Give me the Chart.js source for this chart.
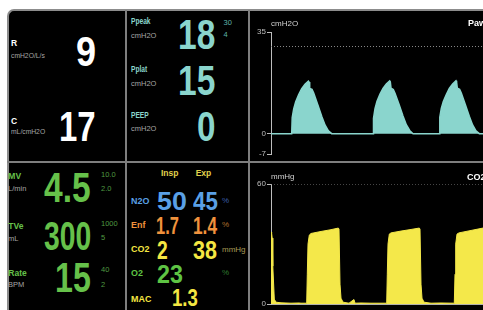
<!DOCTYPE html>
<html>
<head>
<meta charset="utf-8">
<script src="https://cdn.jsdelivr.net/npm/chart.js@4.4.1/dist/chart.umd.min.js"></script>
<style>
  html, body { margin: 0; padding: 0; background: #fff; overflow: hidden; }
  #stage { position: relative; width: 483px; height: 310px; overflow: hidden; }
  .frame { position: absolute; left: 7px; top: 9px; width: 500px; height: 320px; background: #000;
    border-top: 2px solid #8c8c8c; border-left: 2px solid #8c8c8c; border-top-left-radius: 7px; box-sizing: border-box; }
  .line { position: absolute; background: #7e7e7e; }
  .t { position: absolute; white-space: nowrap; line-height: 1; font-family: 'Liberation Sans', Arial, sans-serif; transform-origin: 0 0; }
  canvas { position: absolute; }
</style>
</head>
<body>
<div id="stage">
  <div class="frame"></div>
  <div class="line" style="left:125px;top:10px;width:2px;height:300px"></div>
  <div class="line" style="left:248px;top:10px;width:2px;height:300px"></div>
  <div class="line" style="left:7px;top:161px;width:476px;height:2px"></div>
  <canvas id="paw" width="233" height="150" style="left:250px;top:11px"></canvas>
  <canvas id="co2" width="233" height="147" style="left:250px;top:163px"></canvas>
</div>
<script>
// readouts
const mechLabels = ['R', 'C']
const mechUnits = ['cmH2O/L/s', 'mL/cmH2O']
const mechValues = ['9', '17']

const pressLabels = ['Ppeak', 'Pplat', 'PEEP']
const pressUnits = ['cmH2O', 'cmH2O', 'cmH2O']
const pressValues = ['18', '15', '0']
const ppeakLimits = ['30', '4']

const ventLabels = ['MV', 'TVe', 'Rate']
const ventUnits = ['L/min', 'mL', 'BPM']
const ventValues = ['4.5', '300', '15']
const ventHigh = ['10.0', '1000', '40']
const ventLow = ['2.0', '5', '2']

const gasHeaders = ['Insp', 'Exp']
const gasLabels = ['N2O', 'Enf', 'CO2', 'O2', 'MAC']
const gasInsp = ['50', '1.7', '2', '23', '1.3']
const gasExp = ['45', '1.4', '38', '', '']
const gasUnits = ['%', '%', 'mmHg', '%', '']

// waveforms (x = sweep position, y = value)
const sweep = 212
const pawTicks = [-7, 0, 35]
const pawAlarm = 30
const pawTime = [0,
  20.7, 21.2, 22.7, 24.7, 27.7, 30.7, 34.0, 37.4, 38.0, 38.7, 41.0, 42.7, 46.7, 50.7, 54.0, 57.4, 60.7,
  102, 102.5, 104, 106, 109, 112, 115.3, 118.7, 119.3, 120, 122.3, 124, 128, 132, 135.3, 138.7, 142,
  168.3, 168.8, 170.3, 172.3, 175.3, 178.3, 181.6, 185, 185.6, 186.3, 188.6, 190.3, 194.3, 198.3, 201.6, 205, 208.3,
  212]
const pawValues = [0,
  0, 5.5, 8.5, 11, 13.5, 15.5, 17, 18.1, 17.8, 15.6, 15.3, 14, 10, 6, 3, 1, 0,
  0, 5.3, 8.6, 11.2, 13.6, 15.6, 17.1, 18.2, 17.9, 15.7, 15.2, 13.9, 10.1, 6.1, 3.1, 1.1, 0,
  0, 5.6, 8.7, 11.1, 13.5, 15.6, 17.1, 18.2, 17.8, 15.7, 15.3, 14, 10, 6, 3, 1, 0,
  0]

const co2Ticks = [0, 60]
const co2Top = 60
const co2Time = [0, 0.6, 1.2, 1.8, 3.3, 5, 10, 20, 28, 30,
  35.7, 36.3, 37, 38.3, 40, 50, 60, 67.3, 68, 69, 70, 72, 78, 82, 83, 84, 90, 100,
  115.7, 116.3, 117, 118.3, 120, 130, 140, 148.3, 149, 150, 151, 153, 160, 170,
  182.7, 183.3, 184, 184.7, 186, 188, 200, 212]
const co2Values = [36, 35.5, 33, 19, 2.5, 1, 0.7, 0.5, 0.6, 0.5,
  0.5, 15, 30, 34.5, 35.3, 36.3, 37.2, 38, 37.5, 10, 3, 1, 0.5, 2, 2.3, 0.5, 0.6, 0.5,
  0.5, 15, 30, 35, 35.6, 36.5, 37.3, 38, 37.5, 10, 3, 1, 0.5, 0.6,
  0.5, 0.5, 15, 30, 35, 35.6, 36.8, 38]

const TEAL = '#8ad5cd'
const YELLOW = '#f4e84a'
const GRAY = '#a6a6a6'

const stage = document.getElementById('stage')
const meas = document.createElement('canvas').getContext('2d')

// x = left edge of the ink, base = baseline, w = wanted ink width
function put(text, x, base, size, color, bold, w, sx) {
  if (!text) return
  const weight = bold ? 'bold' : 'normal'
  meas.font = `${weight} ${size}px "Liberation Sans"`
  const m = meas.measureText(text)
  const inkW = m.actualBoundingBoxRight + m.actualBoundingBoxLeft
  const s = w ? w / inkW : (sx || 1)
  const el = document.createElement('div')
  el.className = 't'
  el.textContent = text
  el.style.fontSize = size + 'px'
  el.style.fontWeight = weight
  el.style.color = color
  el.style.left = (x + s * m.actualBoundingBoxLeft) + 'px'
  el.style.top = (base - 0.8465 * size) + 'px'
  el.style.transform = `scaleX(${s})`
  stage.appendChild(el)
}

// R / C
const mechLabelY = [46.5, 124], mechUnitY = [58.5, 134], mechValY = [67, 142]
const mechValX = [77, 61], mechValW = [18, 34]
mechLabels.forEach((l, i) => {
  put(l, 11, mechLabelY[i], 8.5, '#fff', true)
  put(mechUnits[i], 11, mechUnitY[i], 7.5, GRAY, false, null, 0.9)
  put(mechValues[i], mechValX[i], mechValY[i], 42, '#fff', true, mechValW[i])
})

// pressures
const pressLabelY = [24.5, 72.5, 118.5], pressUnitY = [38, 86, 131.5], pressValY = [49, 95, 141.5]
const pressValX = [180, 180, 198], pressValW = [35, 35, 17]
pressLabels.forEach((l, i) => {
  put(l, 131, pressLabelY[i], 8.5, TEAL, true, null, 0.78)
  put(pressUnits[i], 131, pressUnitY[i], 7.5, GRAY)
  put(pressValues[i], pressValX[i], pressValY[i], 43, TEAL, true, pressValW[i])
})
put(ppeakLimits[0], 223.5, 25.7, 7.5, '#5fb3aa')
put(ppeakLimits[1], 223.5, 37.3, 7.5, '#5fb3aa')

// ventilation
const GREEN = '#66c14a'
const ventLabelY = [179, 229, 275.7], ventUnitY = [191, 241, 287], ventValY = [203, 250, 293]
const ventValX = [44.3, 44.3, 56.7], ventValW = [46.3, 46.3, 34], ventSize = [42, 40, 42]
const ventHighY = [177, 226, 272.7], ventLowY = [191, 240.7, 287]
ventLabels.forEach((l, i) => {
  put(l, 8.3, ventLabelY[i], 8.5, GREEN, true)
  put(ventUnits[i], 8, ventUnitY[i], 7.5, GRAY)
  put(ventValues[i], ventValX[i], ventValY[i], ventSize[i], GREEN, true, ventValW[i])
  put(ventHigh[i], 101, ventHighY[i], 7.5, '#4f9a40')
  put(ventLow[i], 101, ventLowY[i], 7.5, '#4f9a40')
})

// gases
const gasColors = ['#5aa0e6', '#f0923c', '#f4e642', '#5ec444', '#f4e642']
const gasUnitColors = ['#3b5ea8', '#b5702e', '#a89a55', '#2f7a2f', '#000']
const gasLabelY = [204, 228, 252.5, 276, 301.7], gasValY = [210, 234.5, 259, 283.3, 306.7]
const gasInspX = [156.7, 156.7, 157, 157, 173.3], gasInspW = [29.3, 21.6, 10, 25, 24.4]
const gasExpW = [24.4, 23.4, 24, 0, 0], gasSize = [26, 23, 25, 25, 23]
put(gasHeaders[0], 161, 176, 8.5, '#e2d24c', true)
put(gasHeaders[1], 195.7, 176, 8.5, '#e2d24c', true)
gasLabels.forEach((l, i) => {
  put(l, 131, gasLabelY[i], 8.5, gasColors[i], true, null, 1.05)
  put(gasInsp[i], gasInspX[i], gasValY[i], gasSize[i], gasColors[i], true, gasInspW[i])
  put(gasExp[i], 193.3, gasValY[i], gasSize[i], gasColors[i], true, gasExpW[i])
  put(gasUnits[i], 222, gasLabelY[i], 8, gasUnitColors[i])
})

// wave titles
put('cmH2O', 271, 26.7, 8, '#d0d0d0')
put('Paw', 468, 27, 9, '#fff', true)
put('mmHg', 271, 180, 8, '#d0d0d0')
put('CO2', 467, 181, 9, '#fff', true)

Chart.defaults.font.family = 'Liberation Sans'

function waveOptions(yMin, yMax, ticks, padBottom, showX) {
  return {
    responsive: false,
    animation: false,
    devicePixelRatio: 1,
    layout: { padding: { top: 21, bottom: padBottom, left: 0, right: 0 } },
    plugins: { legend: { display: false }, tooltip: { enabled: false } },
    elements: { point: { radius: 0 }, line: { tension: 0 } },
    scales: {
      x: {
        type: 'linear', min: 0, max: sweep, display: showX,
        ticks: { display: false },
        grid: { display: false },
        border: { display: true, color: '#b0b0b0', width: 1 },
        afterFit: s => { s.height = 0 }
      },
      y: {
        min: yMin, max: yMax,
        afterFit: s => { s.width = 21 },
        afterBuildTicks: s => { s.ticks = ticks.map(v => ({ value: v })) },
        ticks: { color: '#bdbdbd', font: { size: 8 }, padding: 1, autoSkip: false },
        grid: { drawOnChartArea: false, drawTicks: true, tickLength: 4, color: '#bdbdbd' },
        border: { display: true, color: '#bdbdbd', width: 1 }
      }
    }
  }
}

new Chart(document.getElementById('paw'), {
  type: 'line',
  data: {
    datasets: [
      {
        data: pawTime.map((t, i) => ({ x: t, y: pawValues[i] })),
        borderColor: TEAL, backgroundColor: TEAL, borderWidth: 1.5, fill: 'origin'
      },
      {
        data: [{ x: 0, y: pawAlarm }, { x: sweep, y: pawAlarm }],
        borderColor: '#8a8a8a', borderWidth: 1, borderDash: [1, 2], fill: false
      }
    ]
  },
  options: waveOptions(pawTicks[0], pawTicks[2], pawTicks, 7, false)
})

new Chart(document.getElementById('co2'), {
  type: 'line',
  data: {
    datasets: [
      {
        data: co2Time.map((t, i) => ({ x: t, y: co2Values[i] })),
        borderColor: YELLOW, backgroundColor: YELLOW, borderWidth: 1, fill: 'origin'
      },
      {
        data: [{ x: 0, y: co2Top }, { x: sweep, y: co2Top }],
        borderColor: '#8a8a8a', borderWidth: 1, borderDash: [1, 2], fill: false
      }
    ]
  },
  options: waveOptions(co2Ticks[0], co2Ticks[1], co2Ticks, 3, true)
})
</script>
</body>
</html>
